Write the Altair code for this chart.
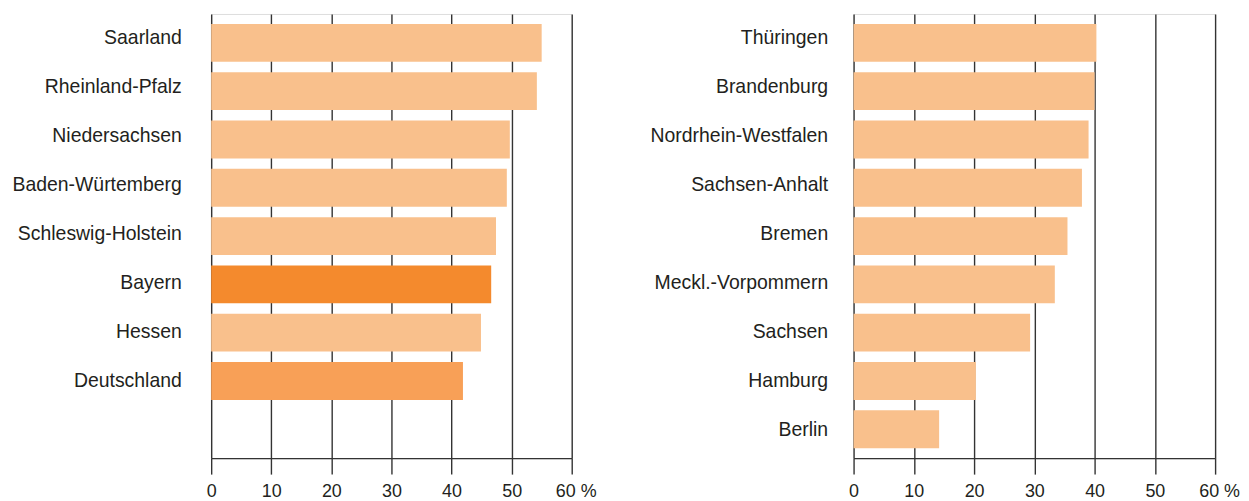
import altair as alt
import pandas as pd

left_names = ["Saarland", "Rheinland-Pfalz", "Niedersachsen", "Baden-Würtemberg",
              "Schleswig-Holstein", "Bayern", "Hessen", "Deutschland"]
left_values = [55.0, 54.2, 49.7, 49.2, 47.4, 46.6, 44.9, 41.9]
left_groups = ["land", "land", "land", "land", "land", "bayern", "land", "de"]

right_names = ["Thüringen", "Brandenburg", "Nordrhein-Westfalen", "Sachsen-Anhalt",
               "Bremen", "Meckl.-Vorpommern", "Sachsen", "Hamburg", "Berlin"]
right_values = [40.3, 40.0, 39.0, 37.9, 35.5, 33.4, 29.3, 20.3, 14.2]
right_groups = ["land"] * 9

x_ticks = [0, 10, 20, 30, 40, 50, 60]

FONT = "Liberation Sans"
TXT = "#231f20"
LINE = "#333333"

color_scale = alt.Scale(domain=["land", "bayern", "de"],
                        range=["#f9c08c", "#f48a2d", "#f8a057"])

def panel(names, values, groups, extent, lpad, width):
    df = pd.DataFrame({"name": names, "value": values, "group": groups})
    domain = list(names) + (["__leer__"] if len(names) < 9 else [])
    return alt.Chart(df).mark_bar().encode(
        x=alt.X("value:Q",
                scale=alt.Scale(domain=[0, 60], nice=False, zero=True),
                axis=alt.Axis(values=x_ticks, title=None, grid=True,
                              gridColor=LINE, gridWidth=1.4,
                              domainColor=LINE, domainWidth=1.4,
                              tickColor=LINE, tickWidth=1.4, tickSize=16,
                              labelFont=FONT, labelFontSize=18, labelColor=TXT,
                              labelPadding=8, labelFlush=False,
                              labelExpr="datum.value == 60 ? '60 %' : datum.label",
                              labelOffset={"condition": {"test": "datum.value == 60", "value": 4}, "value": 0})),
        y=alt.Y("name:N",
                scale=alt.Scale(domain=domain, paddingInner=0.216, paddingOuter=0.206),
                axis=alt.Axis(title=None, ticks=False, domain=False, grid=False,
                              labelFont=FONT, labelFontSize=19.5, labelColor=TXT,
                              labelLimit=300,
                              labelPadding=lpad, minExtent=extent, maxExtent=extent,
                              labelOffset={"condition": {"test": "false", "value": 0},
                                           "expr": "-4.8 + 6 * datum.index"},
                              labelExpr="datum.value == '__leer__' ? '' : datum.label")),
        color=alt.Color("group:N", scale=color_scale, legend=None),
    ).properties(width=width, height=446)

left = panel(left_names, left_values, left_groups, 203, 30, 362)
right = panel(right_names, right_values, right_groups, 236, 26, 363)

chart = alt.hconcat(left, right, spacing=20).properties(
    padding={"top": 4, "left": 0, "right": 0, "bottom": 0}
).configure_view(stroke=LINE, strokeWidth=1.4).configure(background="white")

chart.save("out.html", embed_options={"renderer": "svg", "actions": False})
